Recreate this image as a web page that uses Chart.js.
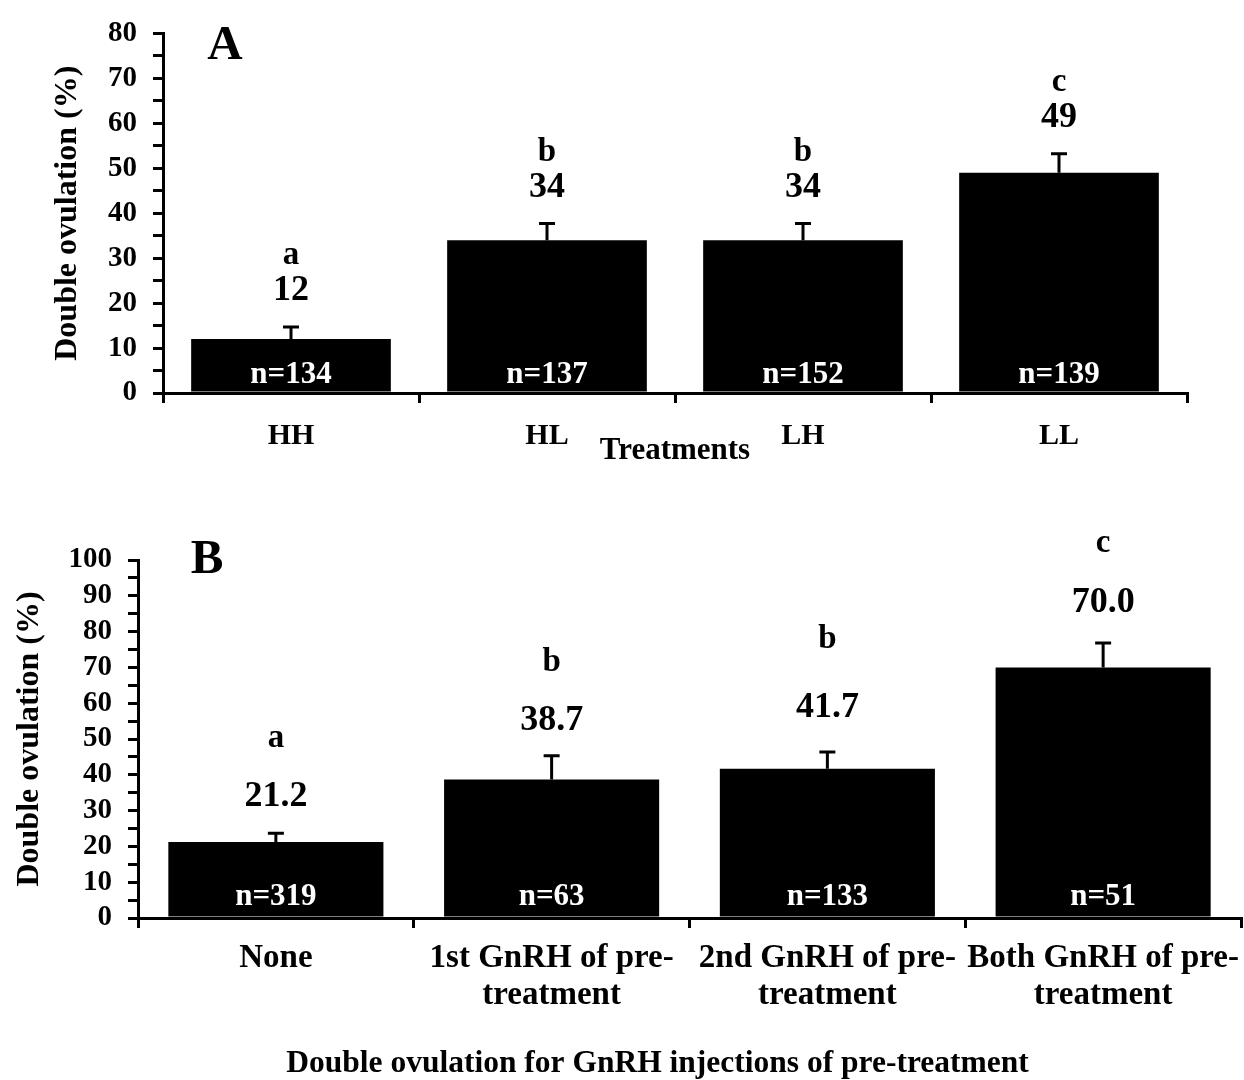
<!DOCTYPE html>
<html>
<head>
<meta charset="utf-8">
<script src="https://cdn.jsdelivr.net/npm/chart.js@4.4.1/dist/chart.umd.min.js"></script>
<style>
  body { margin: 0; background: #fff; }
  .panel { position: absolute; left: 0; width: 1244px; }
  #wrapA { top: 0; height: 480px; }
  #wrapB { top: 480px; height: 600px; }
</style>
</head>
<body>
<div class="panel" id="wrapA"><canvas id="chartA" width="1244" height="480"></canvas></div>
<div class="panel" id="wrapB"><canvas id="chartB" width="1244" height="600"></canvas></div>
<script>
// panel A - treatments
var treatLabels = ['HH', 'HL', 'LH', 'LL'];
var treatValues = [12, 34, 34, 49];
var treatErrors = [2.7, 3.7, 3.7, 4.2];
var treatLetters = ['a', 'b', 'b', 'c'];
var treatN = ['n=134', 'n=137', 'n=152', 'n=139'];
var treatTicks = [0, 10, 20, 30, 40, 50, 60, 70, 80];

// panel B - GnRH injections of pre-treatment
var gnrhLabels = [['None'], ['1st GnRH of pre-', 'treatment'], ['2nd GnRH of pre-', 'treatment'], ['Both GnRH of pre-', 'treatment']];
var gnrhValues = [21.2, 38.7, 41.7, 70.0];
var gnrhErrors = [2.5, 6.6, 4.7, 6.8];
var gnrhLetters = ['a', 'b', 'b', 'c'];
var gnrhN = ['n=319', 'n=63', 'n=133', 'n=51'];
var gnrhTicks = [0, 10, 20, 30, 40, 50, 60, 70, 80, 90, 100];

var FONT = "'Liberation Serif', 'Times New Roman', serif";
Chart.defaults.font.family = FONT;
Chart.defaults.font.weight = 'bold';
Chart.defaults.color = '#000';

function pick(v, i) { return Array.isArray(v) ? v[i] : v; }

// error bars, value / letter labels, sample sizes, panel letter and caption
var barNotes = {
  id: 'barNotes',
  afterDatasetsDraw: function (chart, args, opts) {
    var ctx = chart.ctx;
    var y = chart.scales.y;
    var area = chart.chartArea;
    var meta = chart.getDatasetMeta(0);
    ctx.save();
    ctx.textAlign = 'center';
    ctx.textBaseline = 'middle';
    meta.data.forEach(function (bar, i) {
      var top = y.getPixelForValue(opts.values[i] + opts.errors[i]);
      var base = y.getPixelForValue(opts.values[i]);
      ctx.strokeStyle = '#000';
      ctx.lineWidth = 3;
      ctx.beginPath();
      ctx.moveTo(bar.x, base);
      ctx.lineTo(bar.x, top);
      ctx.moveTo(bar.x - 8, top);
      ctx.lineTo(bar.x + 8, top);
      ctx.stroke();

      ctx.fillStyle = '#000';
      ctx.font = 'bold 36px ' + FONT;
      var numY = top - pick(opts.numGap, i);
      ctx.fillText(opts.valueText[i], bar.x, numY);
      ctx.font = 'bold 33px ' + FONT;
      ctx.fillText(opts.letters[i], bar.x, numY - pick(opts.letterGap, i));

      ctx.fillStyle = '#fff';
      ctx.font = 'bold 31px ' + FONT;
      ctx.fillText(opts.n[i], bar.x, y.getPixelForValue(0) - opts.nGap);
    });
    ctx.fillStyle = '#000';
    ctx.font = 'bold 49px ' + FONT;
    ctx.fillText(opts.panel, area.left + opts.panelDx, area.top + opts.panelDy);
    if (opts.caption) {
      ctx.font = 'bold 31.5px ' + FONT;
      ctx.fillText(opts.caption, (area.left + area.right) / 2 + opts.captionDx, chart.height - opts.captionDy);
    }
    ctx.restore();
  }
};

function makeChart(id, cfg) {
  return new Chart(document.getElementById(id), {
    type: 'bar',
    data: {
      labels: cfg.labels,
      datasets: [{
        data: cfg.values,
        backgroundColor: '#000',
        borderWidth: 0,
        barPercentage: 0.78,
        categoryPercentage: 1.0
      }]
    },
    plugins: [barNotes],
    options: {
      responsive: false,
      animation: false,
      layout: { padding: cfg.padding },
      plugins: {
        legend: { display: false },
        tooltip: { enabled: false },
        barNotes: cfg.notes
      },
      scales: {
        x: {
          afterFit: function (s) {
            s.height = cfg.xHeight;
            // long category labels should not shrink the plot
            s.paddingLeft = 0;
            s.paddingRight = 0;
          },
          grid: { offset: true, drawOnChartArea: false, drawTicks: true, tickLength: 10, color: '#000', lineWidth: 3 },
          border: { display: true, color: '#000', width: 3 },
          ticks: { padding: cfg.xPad, maxRotation: 0, autoSkip: false, color: '#000',
                   font: { size: cfg.xFont, weight: 'bold', lineHeight: cfg.xLine } },
          title: { display: !!cfg.xTitle, text: cfg.xTitle || '', color: '#000',
                   font: { size: 31, weight: 'bold', lineHeight: 1.2 },
                   padding: { top: 0, bottom: cfg.xTitlePad || 0 } }
        },
        y: {
          min: 0,
          max: cfg.ticks[cfg.ticks.length - 1],
          afterFit: function (s) { s.width = cfg.yWidth; },
          grid: { drawOnChartArea: false, drawTicks: true, tickLength: 10, color: '#000', lineWidth: 3 },
          border: { display: true, color: '#000', width: 3 },
          ticks: {
            stepSize: 5,
            autoSkip: false,
            padding: 16,
            color: '#000',
            font: { size: 29, weight: 'bold' },
            callback: function (v) { return cfg.ticks.indexOf(v) >= 0 ? v : ''; }
          },
          title: { display: true, text: 'Double ovulation (%)', color: '#000',
                   font: { size: 32, weight: 'bold', lineHeight: 1.2 },
                   padding: { top: cfg.yTitlePad, bottom: 0 } }
        }
      }
    }
  });
}

makeChart('chartA', {
  labels: treatLabels,
  values: treatValues,
  ticks: treatTicks,
  padding: { top: 22, right: 57, bottom: 0, left: 0 },
  xHeight: 87, xPad: 15, xFont: 30, xLine: 1.2,
  xTitle: 'Treatments', xTitlePad: 10,
  yWidth: 163, yTitlePad: 49,
  notes: {
    values: treatValues, errors: treatErrors, letters: treatLetters, n: treatN,
    valueText: treatValues.map(String),
    numGap: 36, letterGap: 35, nGap: 18,
    panel: 'A', panelDx: 62, panelDy: 13
  }
});

makeChart('chartB', {
  labels: gnrhLabels,
  values: gnrhValues,
  ticks: gnrhTicks,
  padding: { top: 80, right: 3, bottom: 0, left: 0 },
  xHeight: 162, xPad: 11, xFont: 33, xLine: 1.15,
  yWidth: 138, yTitlePad: 11,
  notes: {
    values: gnrhValues, errors: gnrhErrors, letters: gnrhLetters, n: gnrhN,
    valueText: gnrhValues.map(function (v) { return v.toFixed(1); }),
    numGap: [36, 35, 44, 40], letterGap: [59, 58, 68, 60], nGap: 21,
    panel: 'B', panelDx: 69, panelDy: 0,
    caption: 'Double ovulation for GnRH injections of pre-treatment',
    captionDx: -32, captionDy: 16
  }
});
</script>
</body>
</html>
